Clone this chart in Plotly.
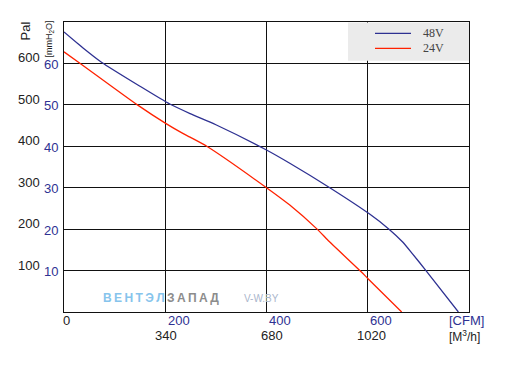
import plotly.graph_objects as go

# ---- data ----
cfm_48 = [0, 37, 74, 150, 209, 249, 300, 400, 446, 525, 603, 642, 669, 688, 715, 779]
mm_48 = [67.6, 63.8, 60.3, 54.5, 50.2, 47.9, 45.2, 39.1, 35.9, 30, 23.7, 20, 16.9, 14.1, 10, 0]
cfm_24 = [0, 32, 145, 200, 232, 249, 282, 400, 446, 500, 524, 587, 600, 667]
mm_24 = [62.8, 60, 50, 45.6, 43.3, 42.2, 40, 30, 25.8, 20, 17.0, 9.7, 8.1, 0]

cfm_ticks = [200, 400, 600]
m3h_labels = ["340", "680", "1020"]
mm_ticks = [60, 50, 40, 30, 20, 10]
pa_labels = ["600", "500", "400", "300", "200", "100"]
series_names = ["48V", "24V"]

BLUE = "#2e3192"
RED = "#ff2200"
FONT = "Liberation Sans, Arial, sans-serif"

OFF = 8  # page body margin
W, H = 517 - OFF, 365 - OFF
L, R, T, B = 64, 469, 22, 311.7  # screen pixel coords of the plot area


def px(xp):
    return (xp - L) / (R - L)


def py(yp):
    return (B - yp) / (B - T)


fig = go.Figure()
fig.add_trace(go.Scatter(x=cfm_48, y=mm_48, mode="lines", name=series_names[0],
                         line=dict(color=BLUE, width=1.3, shape="spline", smoothing=0.6)))
fig.add_trace(go.Scatter(x=cfm_24, y=mm_24, mode="lines", name=series_names[1],
                         line=dict(color=RED, width=1.3, shape="spline", smoothing=0.6)))

ann = []
# y labels
for v, p in zip(mm_ticks, pa_labels):
    ann.append(dict(x=px(59.5), y=v, xref="paper", yref="y", text=str(v), showarrow=False,
                    xanchor="right", yanchor="middle", yshift=-1,
                    font=dict(family=FONT, size=13, color=BLUE)))
    ann.append(dict(x=px(42), y=v, xref="paper", yref="y", text=p, showarrow=False,
                    xanchor="right", yanchor="middle", yshift=5.5,
                    font=dict(family=FONT, size=13, color="#222")))
# x labels
ann.append(dict(x=0, y=py(320), xref="x", yref="paper", text="0", showarrow=False,
                xanchor="center", yanchor="middle", xshift=2,
                font=dict(family=FONT, size=13, color="#222")))
for i, (c, m) in enumerate(zip(cfm_ticks, m3h_labels)):
    ann.append(dict(x=c, y=py(320), xref="x", yref="paper", text=str(c), showarrow=False,
                    xanchor="left", yanchor="middle", xshift=0.5,
                    font=dict(family=FONT, size=13, color=BLUE)))
    ann.append(dict(x=c, y=py(335.5), xref="x", yref="paper", text=m, showarrow=False,
                    xanchor="center", yanchor="middle", xshift=[1, 5, 3.5][i],
                    font=dict(family=FONT, size=13, color="#222")))
ann.append(dict(x=px(446.5), y=py(320), xref="paper", yref="paper", text="[CFM]", showarrow=False,
                xanchor="left", yanchor="middle", font=dict(family=FONT, size=13, color=BLUE)))
ann.append(dict(x=px(446.5), y=py(336), xref="paper", yref="paper", text="[M<sup>3</sup>/h]",
                showarrow=False, xanchor="left", yanchor="middle",
                font=dict(family=FONT, size=12, color="#222")))
# axis titles
ann.append(dict(x=px(25.5), y=py(31), xref="paper", yref="paper", text="Pal", showarrow=False,
                textangle=-90, xanchor="center", yanchor="middle",
                font=dict(family=FONT, size=13, color="#222")))
ann.append(dict(x=px(50), y=py(39.5), xref="paper", yref="paper", text="[mmH<sub>2</sub>O]",
                showarrow=False, textangle=-90, xanchor="center", yanchor="middle",
                font=dict(family=FONT, size=9, color="#222")))
# watermark
ann.append(dict(x=px(101), y=py(298), xref="paper", yref="paper",
                text="<span style='color:#86c4ec'><b>В\u2009Е\u2009Н\u2009Т\u2009Э\u2009Л</b></span>"
                     "<span style='color:#8c8c8c'><b>\u2009З\u2009А\u2009П\u2009А\u2009Д</b></span>",
                showarrow=False, xanchor="left", yanchor="middle",
                font=dict(family=FONT, size=12)))
ann.append(dict(x=px(241.5), y=py(298), xref="paper", yref="paper", text="V-W.BY",
                showarrow=False, xanchor="left", yanchor="middle",
                font=dict(family=FONT, size=10, color="#aab6cc")))

# legend (manual)
shapes = [
    dict(type="rect", xref="paper", yref="paper", x0=px(348), x1=1, y0=py(60.7), y1=py(22.6),
         fillcolor="#ebebeb", line=dict(width=0), layer="above"),
    dict(type="line", xref="paper", yref="paper", x0=px(375), x1=px(411), y0=py(33.3), y1=py(33.3),
         line=dict(color=BLUE, width=1.2), layer="above"),
    dict(type="line", xref="paper", yref="paper", x0=px(375), x1=px(411), y0=py(48.3), y1=py(48.3),
         line=dict(color=RED, width=1.2), layer="above"),
]
for name, yy in zip(series_names, [33.3, 48.3]):
    ann.append(dict(x=px(421), y=py(yy), xref="paper", yref="paper", text=name, showarrow=False,
                    xanchor="left", yanchor="middle",
                    font=dict(family="Liberation Serif, serif", size=12, color="#444")))

fig.update_layout(
    width=W, height=H,
    margin=dict(l=L - OFF, r=517 - R, t=T - OFF, b=365 - B),
    plot_bgcolor="white", paper_bgcolor="white",
    showlegend=False,
    annotations=ann, shapes=shapes,
    xaxis=dict(range=[0, 800], tickvals=cfm_ticks, showticklabels=False, ticks="",
               showgrid=True, gridcolor="#111", gridwidth=1, zeroline=False,
               showline=True, mirror=True, linecolor="#111", linewidth=1.2, fixedrange=True),
    yaxis=dict(range=[0, 70], tickvals=mm_ticks, showticklabels=False, ticks="",
               showgrid=True, gridcolor="#111", gridwidth=1, zeroline=False,
               showline=True, mirror=True, linecolor="#111", linewidth=1.2, fixedrange=True),
)

fig.write_html("out.html")
